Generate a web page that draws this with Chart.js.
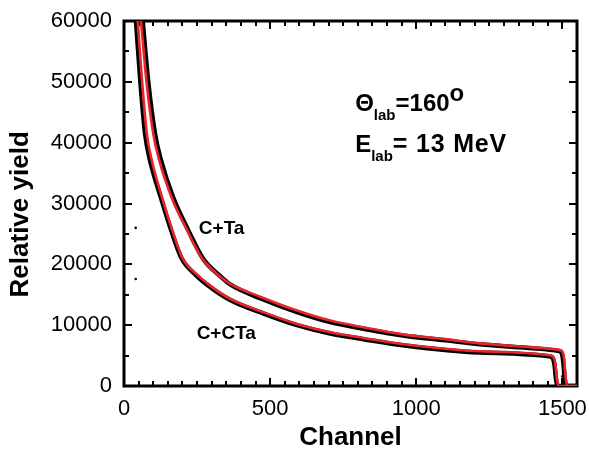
<!DOCTYPE html>
<html>
<head>
<meta charset="utf-8">
<script src="https://cdn.jsdelivr.net/npm/chart.js@4.4.1/dist/chart.umd.min.js"></script>
<style>
  html, body { margin: 0; padding: 0; background: #fff; }
  #wrap { width: 589px; height: 453px; }
</style>
</head>
<body>
<div id="wrap"><canvas id="rbs-chart" width="589" height="453"></canvas></div>
<script>
// =============================================================================
// RBS spectra C+Ta / C+CTa - relative yield vs channel
// =============================================================================

const dataTaCh   = [64, 83, 106, 126, 168, 221, 271, 333, 365, 470, 592, 706, 819, 960, 1100, 1217, 1399, 1488, 1497, 1503, 1508, 1513, 1550];
const dataTaY    = [60000, 50000, 41500, 37200, 31000, 25500, 20900, 17900, 16650, 14350, 12150, 10500, 9400, 8250, 7500, 6850, 6200, 5750, 5500, 4000, 1200, 0, 0];
const dataCTaCh  = [41, 56, 72, 88, 126, 162, 197, 248, 300, 365, 478, 592, 706, 819, 960, 1217, 1458, 1467, 1473, 1478, 1484, 1550];
const dataCTaY   = [60000, 50000, 41500, 37300, 31000, 25500, 21000, 18150, 16100, 14100, 11900, 10000, 8620, 7700, 6650, 5500, 4850, 4600, 3500, 1200, 0, 0];
const strayCh    = [40, 40, 1500];
const strayY     = [26000, 17600, 1600];

// simulated fits (red)
const fitTaCh    = [58, 77, 100, 120, 163, 217, 268, 331, 365, 470, 592, 706, 819, 960, 1100, 1217, 1399, 1490, 1500, 1506, 1511, 1516, 1550];
const fitTaY     = [60000, 50000, 41500, 37200, 31000, 25500, 20900, 17900, 16750, 14600, 12400, 10750, 9650, 8450, 7700, 7000, 6350, 5900, 5650, 4500, 1500, 0, 0];
const fitCTaCh   = [47, 62, 78, 94, 130, 166, 200, 250, 300, 365, 478, 592, 706, 819, 960, 1217, 1461, 1470, 1476, 1481, 1487, 1550];
const fitCTaY    = [60000, 50000, 41500, 37300, 31000, 25500, 21000, 18300, 16300, 14300, 12100, 10200, 8820, 7900, 6850, 5700, 5000, 4700, 3600, 1200, 0, 0];

const xTickVals = [0, 500, 1000, 1500];
const yTickVals = [0, 10000, 20000, 30000, 40000, 50000, 60000];

const curveLabels = ['C+Ta', 'C+CTa'];
const xTitle = 'Channel';
const yTitle = 'Relative yield';

const FONT = '"Liberation Sans", Arial, Helvetica, sans-serif';
const RED = '#e6262b';
const X_MAJOR = 500, X_MINOR = 50;
const Y_MAJOR = 10000, Y_MINOR = 5000;

function pairs(xs, ys) {
    return xs.map((x, i) => ({ x, y: ys[i] }));
}

// box frame with inward ticks on all four sides
const frameTicks = {
    id: 'frameTicks',
    beforeDatasetsDraw(chart) {
        const { ctx, chartArea: a, scales: { x, y } } = chart;
        ctx.save();
        ctx.strokeStyle = '#000';
        ctx.lineWidth = 2;
        ctx.beginPath();
        for (let v = x.min; v <= x.max + 1e-6; v += X_MINOR) {
            const px = Math.round(x.getPixelForValue(v));
            const len = v % X_MAJOR === 0 ? 8 : 5;
            ctx.moveTo(px, a.bottom); ctx.lineTo(px, a.bottom - len);
            ctx.moveTo(px, a.top); ctx.lineTo(px, a.top + len);
        }
        for (let v = y.min; v <= y.max + 1e-6; v += Y_MINOR) {
            const py = Math.round(y.getPixelForValue(v));
            const len = v % Y_MAJOR === 0 ? 8 : 5;
            ctx.moveTo(a.left, py); ctx.lineTo(a.left + len, py);
            ctx.moveTo(a.right, py); ctx.lineTo(a.right - len, py);
        }
        ctx.stroke();
        ctx.lineWidth = 3;
        ctx.strokeRect(a.left, a.top, a.right - a.left, a.bottom - a.top);
        ctx.restore();
    }
};

// draws a run of text pieces: [text, size, baseline shift, letter spacing]
function drawRuns(ctx, x0, y0, runs) {
    let cx = x0;
    runs.forEach(([txt, size, dy, ls]) => {
        ctx.font = `bold ${size}px ${FONT}`;
        ctx.letterSpacing = (ls || 0) + 'px';
        ctx.fillText(txt, cx, y0 + dy);
        cx += ctx.measureText(txt).width;
    });
    ctx.letterSpacing = '0px';
}

const annotations = {
    id: 'annotations',
    afterDatasetsDraw(chart) {
        const { ctx, scales: { x, y } } = chart;
        ctx.save();
        ctx.fillStyle = '#000';
        ctx.textAlign = 'center';
        ctx.textBaseline = 'middle';
        ctx.font = `bold 19px ${FONT}`;
        ctx.fillText(curveLabels[0], x.getPixelForValue(334), y.getPixelForValue(25770));
        ctx.fillText(curveLabels[1], x.getPixelForValue(350), y.getPixelForValue(8600));

        ctx.textAlign = 'left';
        ctx.textBaseline = 'alphabetic';
        const lx = x.getPixelForValue(791);
        drawRuns(ctx, lx, y.getPixelForValue(45280), [['\u0398', 24, 0], ['lab', 15, 9], ['=160', 24, 0], ['o', 24, -10]]);
        drawRuns(ctx, lx, y.getPixelForValue(38490), [['E', 24, 0], ['lab', 15, 9], ['= 13 MeV', 25, 0, 0.8]]);
        ctx.restore();
    }
};

const lineSet = (data, color, width, order) => ({
    data, showLine: true, borderColor: color, borderWidth: width,
    pointRadius: 0, cubicInterpolationMode: 'monotone', fill: false, order
});

new Chart(document.getElementById('rbs-chart'), {
    type: 'scatter',
    data: {
        datasets: [
            lineSet(pairs(fitTaCh, fitTaY), RED, 2.6, 0),
            lineSet(pairs(fitCTaCh, fitCTaY), RED, 2.6, 0),
            lineSet(pairs(dataTaCh, dataTaY), '#000', 4.5, 1),
            lineSet(pairs(dataCTaCh, dataCTaY), '#000', 4.5, 1),
            {
                data: pairs(strayCh, strayY),
                pointRadius: 1.3, pointBackgroundColor: '#000', pointBorderWidth: 0, order: 2
            }
        ]
    },
    options: {
        responsive: false,
        animation: false,
        layout: { padding: { top: 21, right: 12, left: 0, bottom: 0 } },
        plugins: {
            legend: { display: false },
            tooltip: { enabled: false }
        },
        scales: {
            x: {
                type: 'linear',
                min: 0, max: 1550,
                grid: { display: false, drawTicks: false },
                border: { display: false },
                afterBuildTicks(s) { s.ticks = xTickVals.map(value => ({ value })); },
                ticks: {
                    autoSkip: false, padding: 10, maxRotation: 0,
                    color: '#000', font: { family: FONT, size: 22 },
                    callback: v => String(v)
                },
                title: {
                    display: true, text: xTitle, color: '#000',
                    font: { family: FONT, size: 26, weight: 'bold' },
                    padding: { top: 0, bottom: 0 }
                },
                afterFit(s) { s.height = 67; s.paddingLeft = 0; s.paddingRight = 0; }
            },
            y: {
                type: 'linear',
                min: 0, max: 60000,
                grid: { display: false, drawTicks: false },
                border: { display: false },
                afterBuildTicks(s) { s.ticks = yTickVals.map(value => ({ value })); },
                ticks: {
                    autoSkip: false, padding: 12,
                    color: '#000', font: { family: FONT, size: 22 },
                    callback: v => String(v)
                },
                title: {
                    display: true, text: yTitle + '   ', color: '#000',
                    font: { family: FONT, size: 26, weight: 'bold' },
                    padding: { top: 5, bottom: 0 }
                },
                afterFit(s) { s.width = 124; s.paddingTop = 0; s.paddingBottom = 0; }
            }
        }
    },
    plugins: [frameTicks, annotations]
});
</script>
</body>
</html>
